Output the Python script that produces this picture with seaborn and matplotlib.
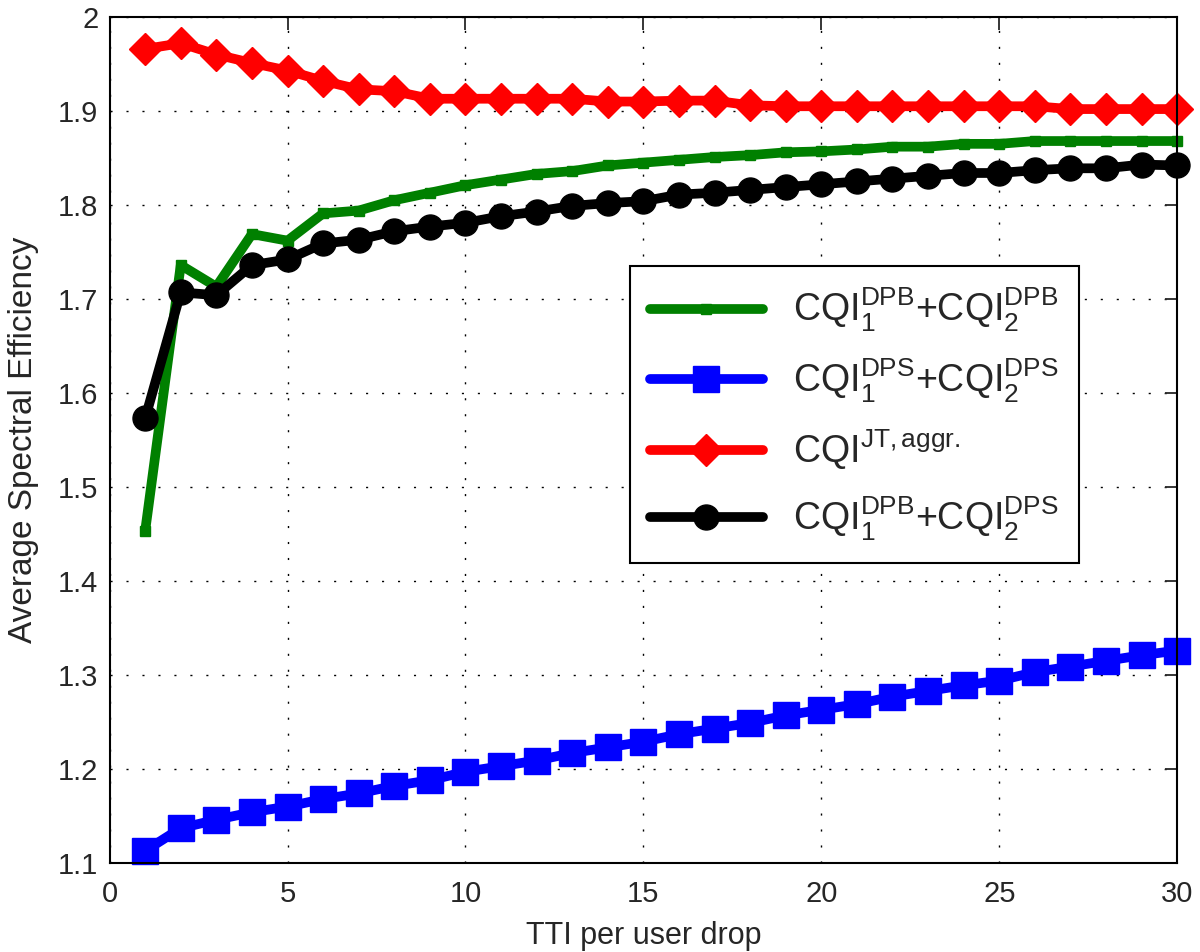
import numpy as np
import pandas as pd
import matplotlib
matplotlib.use("Agg")
import matplotlib.pyplot as plt
import seaborn as sns

# Data
tti = list(range(1, 31))

# CQI_1^DPB + CQI_2^DPB (green)
se_dpb_dpb = [1.453, 1.736, 1.713, 1.769, 1.762, 1.791, 1.794, 1.805, 1.813, 1.821,
              1.827, 1.833, 1.836, 1.842, 1.845, 1.848, 1.851, 1.853, 1.856, 1.857,
              1.859, 1.862, 1.862, 1.865, 1.865, 1.868, 1.868, 1.868, 1.868, 1.868]

# CQI_1^DPS + CQI_2^DPS (blue)
se_dps_dps = [1.113, 1.137, 1.146, 1.154, 1.160, 1.168, 1.174, 1.182, 1.188, 1.197,
              1.203, 1.209, 1.217, 1.223, 1.229, 1.237, 1.243, 1.249, 1.257, 1.263,
              1.269, 1.277, 1.283, 1.289, 1.294, 1.303, 1.309, 1.315, 1.321, 1.326]

# CQI^{JT,aggr.} (red)
se_jt = [1.966, 1.972, 1.960, 1.951, 1.943, 1.932, 1.923, 1.921, 1.913, 1.913,
         1.913, 1.913, 1.913, 1.910, 1.910, 1.911, 1.911, 1.906, 1.905, 1.905,
         1.905, 1.905, 1.905, 1.905, 1.905, 1.905, 1.902, 1.902, 1.902, 1.902]

# CQI_1^DPB + CQI_2^DPS (black)
se_dpb_dps = [1.573, 1.707, 1.704, 1.736, 1.742, 1.759, 1.763, 1.772, 1.777, 1.781,
              1.788, 1.793, 1.799, 1.802, 1.804, 1.811, 1.813, 1.816, 1.819, 1.822,
              1.825, 1.828, 1.831, 1.834, 1.834, 1.837, 1.839, 1.839, 1.843, 1.842]

labels = [
    r'CQI$_1^{\rm DPB}$+CQI$_2^{\rm DPB}$',
    r'CQI$_1^{\rm DPS}$+CQI$_2^{\rm DPS}$',
    r'CQI$^{\rm JT,aggr.}$',
    r'CQI$_1^{\rm DPB}$+CQI$_2^{\rm DPS}$',
]
series = [se_dpb_dpb, se_dps_dps, se_jt, se_dpb_dps]
colors = ['#008000', '#0000ff', '#ff0000', '#000000']
markers = ['s', 's', 'D', 'o']
msizes = [7, 19, 16, 18]

sns.set_style("white")
plt.rcParams['font.family'] = ['Liberation Sans', 'DejaVu Sans']
plt.rcParams['mathtext.fontset'] = 'custom'
plt.rcParams['mathtext.rm'] = 'Liberation Sans'
plt.rcParams['mathtext.it'] = 'Liberation Sans:italic'
plt.rcParams['mathtext.bf'] = 'Liberation Sans:bold'

fig = plt.figure(figsize=(12, 9.52), dpi=100)
ax = fig.add_axes([0.0913, 0.0935, 0.8897, 0.8887])

for vals, lab, col, mk, ms in zip(series, labels, colors, markers, msizes):
    df = pd.DataFrame({'tti': tti, 'se': vals})
    sns.lineplot(data=df, x='tti', y='se', ax=ax, color=col, linewidth=7,
                 marker=mk, markersize=ms, markeredgecolor=col,
                 markerfacecolor=col, markeredgewidth=1, label=lab,
                 clip_on=False)

ax.set_xlim(0, 30)
ax.set_ylim(1.1, 2.0)
ax.set_xticks([0, 5, 10, 15, 20, 25, 30])
ax.set_yticks([1.1, 1.2, 1.3, 1.4, 1.5, 1.6, 1.7, 1.8, 1.9, 2.0])
ax.set_yticklabels(['1.1', '1.2', '1.3', '1.4', '1.5', '1.6', '1.7', '1.8', '1.9', '2'])

ax.grid(True, color='black', linestyle=(0, (1.5, 10)), linewidth=1.0)
ax.tick_params(direction='in', length=9, width=1.3, top=True, right=True,
               labelsize=21)
ax.tick_params(axis='x', pad=12)
ax.tick_params(axis='y', pad=8)
for sp in ax.spines.values():
    sp.set_color('black')
    sp.set_linewidth(1.5)

ax.set_xlabel('TTI per user drop', fontsize=22)
ax.set_ylabel('Average Spectral Efficiency', fontsize=24)
ax.xaxis.set_label_coords(0.5, -0.068)
ax.yaxis.set_label_coords(-0.066, 0.5)

leg = ax.legend(loc='upper left', bbox_to_anchor=(0.487, 0.706), fontsize=27,
                handlelength=3.0, handletextpad=0.8, labelspacing=0.6,
                borderpad=0.55, borderaxespad=0, fancybox=False,
                framealpha=1, numpoints=1)
leg.get_frame().set_edgecolor('black')
leg.get_frame().set_linewidth(1.5)

fig.savefig('out.png', dpi=100)
plt.close(fig)
